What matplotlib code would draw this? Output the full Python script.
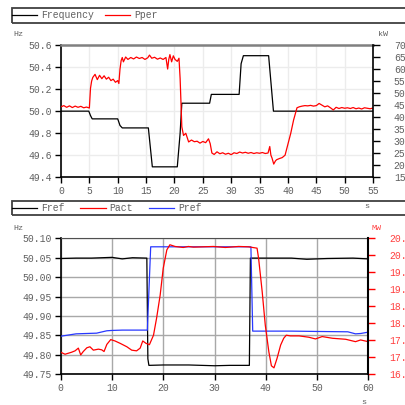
import matplotlib
matplotlib.use('Agg')
import matplotlib.pyplot as plt
from matplotlib.patches import Rectangle
from matplotlib.lines import Line2D

plt.rcParams['font.family'] = ['Liberation Mono', 'DejaVu Sans Mono']
plt.rcParams['font.size'] = 7

# ---- top chart data ----
f_t = [0, 4.9, 5.2, 5.5, 10.0, 10.4, 10.8, 15.4, 16.1, 20.5, 21.0, 21.3, 26.2, 26.5,
       31.4, 31.75, 32.15, 36.6, 37.45, 55]
f_hz = [50.0, 50.0, 49.96, 49.93, 49.93, 49.87, 49.848, 49.848, 49.495, 49.495, 49.8, 50.072,
        50.072, 50.152, 50.152, 50.43, 50.503, 50.503, 50.0, 50.0]

p_t = [0, 0.5, 1, 1.5, 2, 2.5, 3, 3.5, 4, 4.5, 5.0,
       5.2, 5.4, 5.6, 6.0, 6.4, 6.8, 7.2, 7.6, 8.0, 8.4, 8.8, 9.2, 9.6, 10.0, 10.2,
       10.4, 10.6, 10.8, 11.0, 11.4, 11.8, 12.3, 12.8, 13.3, 13.8, 14.3, 14.8, 15.3, 15.6,
       16.0, 16.5, 17.0, 17.5, 18.0, 18.5, 18.8, 19.0, 19.2, 19.5, 19.8, 20.1, 20.5, 20.8,
       21.0, 21.3, 21.6, 22.0, 22.5, 23.0, 23.5, 24.0, 24.5, 25.0, 25.5, 26.0, 26.3,
       26.6, 27.0, 27.5, 28.0, 28.5, 29.0, 29.5, 30.0, 30.5, 31.0, 31.5, 32.0, 32.5, 33.0,
       33.5, 34.0, 34.5, 35.0, 35.5, 36.0, 36.5, 36.8, 37.0,
       37.2, 37.5, 37.8, 38.0, 38.5, 39.0, 39.5, 40.0, 40.5, 41.0, 41.6,
       42.0, 42.5, 43.0, 43.5, 44.0, 44.5, 45.0, 45.5, 46.0, 46.5, 47.0, 47.5, 48.0, 48.5,
       49.0, 49.5, 50.0, 50.5, 51.0, 51.5, 52.0, 52.5, 53.0, 53.5, 54.0, 54.5, 55.0]
p_kw = [443, 448, 441, 447, 440, 446, 441, 445, 439, 442, 438,
        520, 550, 565, 578, 556, 574, 560, 572, 558, 566, 552, 558, 545, 552, 540,
        600, 635, 648, 630, 650, 640, 648, 642, 650, 644, 648, 640, 647, 658,
        645, 649, 641, 646, 640, 648, 600, 640, 660, 630, 655, 640, 632, 645,
        560, 360, 324, 333, 297, 305, 298, 300, 292, 299, 294, 310, 290,
        251, 245, 256, 248, 252, 246, 250, 244, 252, 249, 255, 251, 254, 250,
        253, 249, 252, 250, 253, 249, 251, 278, 242,
        230, 205, 218, 223, 228, 232, 242, 288, 333, 388, 439,
        443, 446, 448, 447, 449, 446, 448, 457, 450, 443, 447, 439, 430, 441,
        436, 440, 437, 439, 436, 440, 435, 438, 434, 439, 437, 435, 438]

# ---- bottom chart data ----
fr_t = [0, 3, 6, 10, 12, 14, 16.8, 17.0, 17.2, 20, 25, 30, 33, 36.8, 37.0, 40, 45, 48, 52,
        57, 60]
fr_hz = [50.048, 50.049, 50.049, 50.051, 50.047, 50.05, 50.049, 49.79, 49.773, 49.774,
         49.774, 49.772, 49.773, 49.773, 50.049, 50.049, 50.049, 50.046, 50.048, 50.049, 50.047]

pr_t = [0, 3, 7, 9, 10, 12, 16.9, 17.55, 20, 25, 30, 37.1, 37.45, 45, 50, 56, 57.5, 58.5, 60]
pr_mw = [17.62, 17.69, 17.71, 17.78, 17.79, 17.80, 17.80, 20.25, 20.25, 20.25, 20.25, 20.25,
         17.77, 17.77, 17.76, 17.75, 17.69, 17.70, 17.74]

pa_t = [0, 0.84, 2.14, 2.8, 3.44, 3.9, 4.4, 5.1, 5.7, 6.37, 7.35, 8.0, 8.45, 9.0, 9.75, 10.6,
        11.6, 12.9, 13.85, 14.8, 15.5, 16.0, 16.65, 17.3, 18.1, 18.7, 19.4, 20.0, 20.7, 21.3,
        22.3, 23.9, 24.9, 25.9, 27.9, 29.8, 32.1, 34.7, 36.6, 38.3, 38.6, 39.3, 39.9, 40.6,
        41.1, 41.6, 42.2, 42.9, 43.5, 44.0, 44.8, 46.5, 48.4, 49.7, 51.0, 53.0, 55.6, 57.5,
        58.5, 60]
pa_mw = [17.15, 17.09, 17.15, 17.19, 17.27, 17.07, 17.17, 17.28, 17.31, 17.21, 17.24, 17.22,
         17.17, 17.38, 17.52, 17.48, 17.41, 17.31, 17.21, 17.19, 17.27, 17.48, 17.41, 17.37,
         17.65, 18.15, 18.83, 19.62, 20.16, 20.31, 20.26, 20.23, 20.26, 20.24, 20.25, 20.26,
         20.23, 20.26, 20.25, 20.21, 19.91, 18.93, 17.95, 17.16, 16.75, 16.69, 16.97, 17.36,
         17.56, 17.65, 17.63, 17.63, 17.59, 17.54, 17.61, 17.56, 17.53, 17.46, 17.51, 17.46]

top_xticks = list(range(0, 56, 5))
top_yticks = [49.4, 49.6, 49.8, 50.0, 50.2, 50.4, 50.6]
top_kwticks = list(range(150, 701, 50))
bot_xticks = list(range(0, 61, 10))
bot_yticks = [49.75, 49.80, 49.85, 49.90, 49.95, 50.00, 50.05, 50.10]
bot_mwticks = [16.5, 17.0, 17.5, 18.0, 18.5, 19.0, 19.5, 20.0, 20.5]

grey = '#606060'
lred = '#ff4040'

fig = plt.figure(figsize=(4.05, 4.05), dpi=100)


def style_axis(ax, xticks, yticks, fmt, gridc):
    ax.set_xticks(xticks)
    ax.set_yticks(yticks)
    ax.set_yticklabels([fmt % v for v in yticks])
    ax.tick_params(colors='black', labelcolor=grey, length=4.5, width=1, pad=2, labelsize=7)
    ax.grid(True, color=gridc, lw=1)
    ax.set_axisbelow(True)
    for s in ['left', 'bottom']:
        ax.spines[s].set_linewidth(1.2)
        ax.spines[s].set_color('black')


# ---- top chart ----
ax1 = fig.add_axes([0.1506, 0.5622, 0.7704, 0.3267])
ax1.plot(f_t, f_hz, color='black', lw=0.9)
ax1.set_xlim(0, 55)
ax1.set_ylim(49.4, 50.6)
style_axis(ax1, top_xticks, top_yticks, '%.1f', '#ececec')
ax1.spines['top'].set_color('#808080')
ax1.spines['top'].set_linewidth(1.8)
ax1.spines['right'].set_visible(False)
ax1b = ax1.twinx()
ax1b.plot(p_t, p_kw, color='red', lw=0.9)
ax1b.set_ylim(150, 700)
ax1b.set_yticks(top_kwticks)
ax1b.tick_params(colors='black', labelcolor=grey, length=5, width=1, pad=10, labelsize=7)
ax1b.spines['right'].set_linewidth(1.2)
for s in ['top', 'left', 'bottom']:
    ax1b.spines[s].set_visible(False)

# ---- bottom chart ----
ax2 = fig.add_axes([0.1499, 0.0758, 0.7595, 0.3358])
ax2.plot(fr_t, fr_hz, color='black', lw=0.9)
ax2.set_xlim(0, 60)
ax2.set_ylim(49.75, 50.10)
style_axis(ax2, bot_xticks, bot_yticks, '%.2f', '#a8a8a8')
ax2.spines['top'].set_color('#505050')
ax2.spines['right'].set_visible(False)
ax2b = ax2.twinx()
ax2b.plot(pr_t, pr_mw, color='#2838ff', lw=0.9)
ax2b.plot(pa_t, pa_mw, color='red', lw=0.9)
ax2b.set_ylim(16.5, 20.5)
ax2b.set_yticks(bot_mwticks)
ax2b.set_yticklabels(['%.1f' % v for v in bot_mwticks])
ax2b.tick_params(colors='red', labelcolor=lred, length=5, width=1, pad=10, labelsize=7)
ax2b.spines['right'].set_linewidth(1.5)
ax2b.spines['right'].set_color('black')
for s in ['top', 'left', 'bottom']:
    ax2b.spines[s].set_visible(False)

# ---- legend boxes ----
fig.patches.append(Rectangle((0.0296, 0.9444), 1.0, 0.0358, transform=fig.transFigure,
                             fill=False, edgecolor='#404040', lw=1.3))
fig.patches.append(Rectangle((0.0296, 0.4691), 1.0, 0.0346, transform=fig.transFigure,
                             fill=False, edgecolor='#404040', lw=1.3))

h1 = [Line2D([], [], color='black', lw=0.9), Line2D([], [], color='red', lw=0.9)]
fig.legend(h1, ['Frequency', 'Pper'], loc='center left', bbox_to_anchor=(0.03, 0.9623),
           ncol=2, frameon=False, handlelength=2.6, handletextpad=0.4, columnspacing=1.1,
           borderpad=0, borderaxespad=0, labelcolor=grey, fontsize=7)
h2 = [Line2D([], [], color='black', lw=0.9), Line2D([], [], color='red', lw=0.9),
      Line2D([], [], color='#2838ff', lw=0.9)]
fig.legend(h2, ['Fref', 'Pact', 'Pref'], loc='center left', bbox_to_anchor=(0.03, 0.4864),
           ncol=3, frameon=False, handlelength=2.6, handletextpad=0.4, columnspacing=1.6,
           borderpad=0, borderaxespad=0, labelcolor=grey, fontsize=7)

# ---- unit labels ----
fig.text(13 / 405, 1 - 35 / 405, 'Hz', color=grey, fontsize=6, va='center')
fig.text(378 / 405, 1 - 35 / 405, 'kW', color=grey, fontsize=6, va='center')
fig.text(13 / 405, 1 - 229 / 405, 'Hz', color=grey, fontsize=6, va='center')
fig.text(372 / 405, 1 - 228 / 405, 'MW', color=lred, fontsize=6, va='center')
fig.text(364 / 405, 1 - 207 / 405, 's', color=grey, fontsize=6, va='center')
fig.text(361 / 405, 1 - 402 / 405, 's', color=grey, fontsize=6, va='center')

fig.savefig('out.png', dpi=100)
